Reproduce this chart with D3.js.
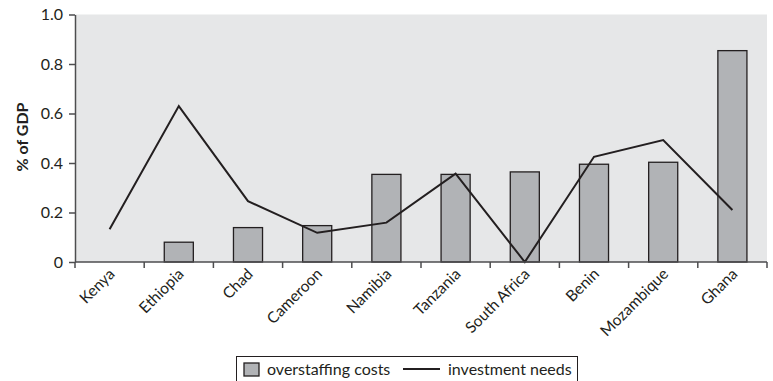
<!DOCTYPE html>
<html><head><meta charset="utf-8">
<script src="https://cdn.jsdelivr.net/npm/d3@7"></script>
<style>body{margin:0;background:#fff}svg{display:block}text{font-family:Lato,"Open Sans",sans-serif;fill:#231f20}</style>
</head><body>
<script>
const categories = ["Kenya","Ethiopia","Chad","Cameroon","Namibia","Tanzania","South Africa","Benin","Mozambique","Ghana"];
const overstaffing = [null,0.08,0.139,0.147,0.354,0.354,0.364,0.395,0.403,0.854];
const investment = [0.132,0.630,0.246,0.118,0.159,0.357,0.0,0.425,0.493,0.210];
const yTicks = [0,0.2,0.4,0.6,0.8,1.0];
const yTickLabels = ["0","0.2","0.4","0.6","0.8","1.0"];

const W=773,H=381;
const m={l:75,r:6,t:14.5,b:119};
const svg=d3.select("body").append("svg").attr("width",W).attr("height",H);
const x=d3.scaleBand().domain(categories).range([m.l,W-m.r]).paddingInner(0).paddingOuter(0);
const y=d3.scaleLinear().domain([0,1]).range([H-m.b,m.t]);
const dark="#231f20";

svg.append("rect").attr("x",m.l).attr("y",m.t).attr("width",W-m.r-m.l).attr("height",H-m.b-m.t).attr("fill","#e6e7e8");

const bw=x.bandwidth()*0.42;
svg.append("g").selectAll("rect").data(categories.map((c,i)=>({c,v:overstaffing[i]})).filter(d=>d.v!=null))
 .join("rect")
 .attr("x",d=>x(d.c)+x.bandwidth()/2-bw/2).attr("width",bw)
 .attr("y",d=>y(d.v)).attr("height",d=>y(0)-y(d.v))
 .attr("fill","#b1b3b6").attr("stroke",dark).attr("stroke-width",1.3);

const line=d3.line().x((d,i)=>x(categories[i])+x.bandwidth()/2).y(d=>y(d));
svg.append("path").datum(investment).attr("d",line).attr("fill","none").attr("stroke",dark).attr("stroke-width",2);

// y axis
const ya=svg.append("g").attr("transform",`translate(${m.l},0)`)
 .call(d3.axisLeft(y).tickValues(yTicks).tickFormat((d,i)=>yTickLabels[i]).tickSize(6).tickSizeOuter(0));
ya.select(".domain").attr("stroke","#4d4d4f").attr("stroke-width",1.5);
ya.selectAll(".tick line").attr("stroke","#4d4d4f").attr("stroke-width",1.5);
ya.selectAll(".tick text").attr("font-size",16).attr("font-family","Lato,sans-serif").attr("fill",dark).attr("x",-12);

// x axis
const xa=svg.append("g").attr("transform",`translate(0,${H-m.b})`);
xa.append("line").attr("x1",m.l).attr("x2",W-m.r).attr("stroke","#4d4d4f").attr("stroke-width",1.5);
const edges=categories.map(c=>x(c)).concat([W-m.r]);
xa.selectAll("line.t").data(edges).join("line").attr("class","t")
 .attr("x1",d=>d).attr("x2",d=>d).attr("y1",0).attr("y2",6).attr("stroke","#4d4d4f").attr("stroke-width",1.5);
xa.selectAll("text").data(categories).join("text")
 .attr("transform",d=>`translate(${x(d)+x.bandwidth()/2+6},${13}) rotate(-45)`)
 .attr("text-anchor","end").attr("font-size",15.5).text(d=>d);

// y label
svg.append("text").attr("transform",`translate(28,137) rotate(-90)`).attr("text-anchor","middle")
 .attr("font-size",16).attr("font-weight","bold").text("% of GDP");

// legend
const lg=svg.append("g");
lg.append("rect").attr("x",236.5).attr("y",356.5).attr("width",341).attr("height",30).attr("fill","#fff").attr("stroke",dark).attr("stroke-width",1);
lg.append("rect").attr("x",244).attr("y",363).attr("width",15).attr("height",13).attr("fill","#b1b3b6").attr("stroke",dark).attr("stroke-width",1.3);
lg.append("text").attr("x",267).attr("y",375).attr("font-size",16).text("overstaffing costs");
lg.append("line").attr("x1",403).attr("x2",440).attr("y1",369).attr("y2",369).attr("stroke",dark).attr("stroke-width",2);
lg.append("text").attr("x",448).attr("y",375).attr("font-size",16).text("investment needs");
</script>
</body></html>
